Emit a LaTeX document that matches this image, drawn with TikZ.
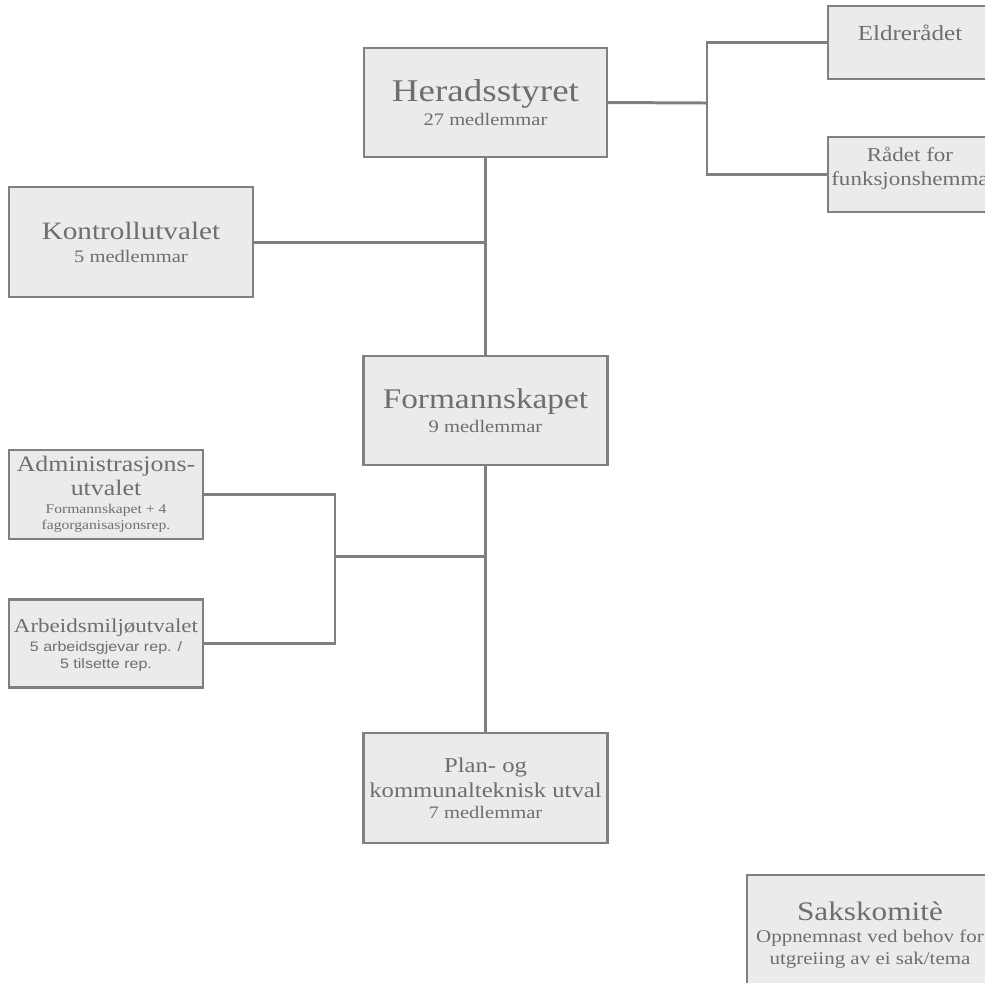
\documentclass[tikz,border=0pt]{standalone}
\usepackage{fontspec}
\setmainfont{Liberation Serif}[FakeStretch=1.17]
\newfontfamily\orgsans{Liberation Sans}[FakeStretch=1.17]
\usepackage{tikz}
\usetikzlibrary{positioning,calc}
\definecolor{boxFill}{HTML}{EBEBEB}
\definecolor{boxLine}{HTML}{808080}
\definecolor{orgText}{HTML}{6E6E6E}
\newcommand{\fs}[2]{\fontsize{#1}{#2}\selectfont\lineskiplimit=-100pt\relax}

\begin{document}
\begin{tikzpicture}[x=0.1mm, y=-0.1mm,
  orgbox/.style={draw=boxLine, line width=0.6pt, fill=boxFill, text=orgText, align=center, inner sep=0pt},
  link/.style={draw=boxLine, line width=0.85pt}]
\useasboundingbox (0,0) rectangle (985,982);
\node[orgbox, minimum width=24.3mm, minimum height=10.9mm, font=\fs{5}{6.8}] (hstyre) at (485.5,102.5) {\fs{9}{6.8}Heradsstyret\\27 medlemmar};
\node[orgbox, minimum width=16.4mm, minimum height=7.3mm, font=\fs{6.1}{7}, text depth=5.5pt] (eldre) at (910,42.5) {Eldrerådet};
\node[orgbox, minimum width=16.4mm, minimum height=7.5mm, font=\fs{5.6}{6.8}, text depth=4.8pt] (raadet) at (910,174.5) {Rådet for\\funksjonshemma};
\node[orgbox, minimum width=24.4mm, minimum height=11mm, font=\fs{5}{6.5}] (kontroll) at (131,242) {\fs{7.1}{6.5}Kontrollutvalet\\5 medlemmar};
\node[orgbox, minimum width=24.4mm, minimum height=10.9mm, font=\fs{5}{6.8}] (forma) at (485.5,410.5) {\fs{8.1}{6.8}Formannskapet\\9 medlemmar};
\node[orgbox, minimum width=19.4mm, minimum height=8.9mm, font=\fs{3.8}{4.6}] (admin) at (106,494.5) {\fs{6.3}{4}Administrasjons-\\[2.2pt]\fs{6.3}{4}utvalet\\[0.4pt]Formannskapet + 4\\fagorganisasjonsrep.};
\node[orgbox, minimum width=19.4mm, minimum height=8.8mm, font=\fs{3.9}{4.8}, text depth=0pt] (arbeid) at (106,643.5) {\fs{5.6}{4}Arbeidsmiljøutvalet\\[0.8pt]\orgsans 5 arbeidsgjevar rep. /\\\orgsans 5 tilsette rep.};
\node[orgbox, minimum width=24.4mm, minimum height=11mm, font=\fs{5}{6}] (plan) at (485.5,788) {\fs{6}{6}Plan- og\\[1.1pt]\fs{6}{6}kommunalteknisk utval\\7 medlemmar};
\node[orgbox, minimum width=24.6mm, minimum height=12mm, font=\fs{5.1}{6.2}] (saks) at (870,935) {\fs{7.6}{6.2}Sakskomitè\\Oppnemnast ved behov for\\utgreiing av ei sak/tema};
\coordinate (rfork) at (707,103);
\coordinate (lfork) at (335,556);
\draw[link] (hstyre) -- (forma);
\draw[link] (forma) -- (plan);
\draw[link] (kontroll.east) -- (kontroll.east -| hstyre.south);
\draw[link] (hstyre.east) -- (rfork);
\draw[link] (eldre.west) -| (rfork) |- (raadet.west);
\draw[link] (admin.east) -| (lfork) |- (arbeid.east);
\draw[link] (lfork) -- (lfork -| forma.south);
\end{tikzpicture}
\end{document}
